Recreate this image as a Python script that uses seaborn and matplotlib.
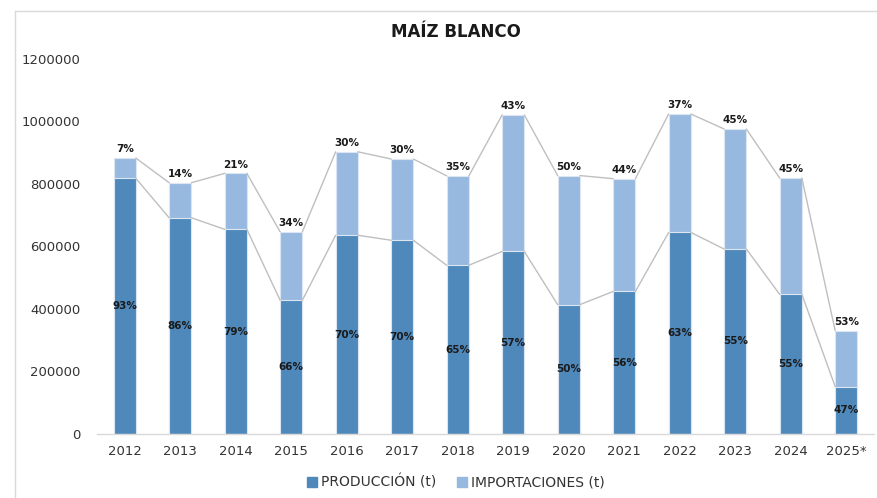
import matplotlib
matplotlib.use("Agg")
import matplotlib.pyplot as plt
import seaborn as sns
import pandas as pd
from matplotlib.patches import Patch

years = ["2012", "2013", "2014", "2015", "2016", "2017", "2018",
         "2019", "2020", "2021", "2022", "2023", "2024", "2025*"]
produccion = [818000, 692000, 655000, 428000, 636000, 620000, 540000,
              584000, 414000, 456000, 645000, 592000, 447000, 152000]
total = [883000, 804000, 834000, 647000, 903000, 880000, 826000,
         1021000, 827000, 817000, 1024000, 976000, 819000, 331000]
pct_prod = ["93%", "86%", "79%", "66%", "70%", "70%", "65%",
            "57%", "50%", "56%", "63%", "55%", "55%", "47%"]
pct_imp = ["7%", "14%", "21%", "34%", "30%", "30%", "35%",
           "43%", "50%", "44%", "37%", "45%", "45%", "53%"]

c_prod = "#4F89BC"
c_imp = "#98B9DF"
line_c = "#BFBFBF"

df = pd.DataFrame({"year": years, "prod": produccion, "total": total})

sns.set_style("white")
plt.rcParams["font.family"] = ["DejaVu Sans"]

fig = plt.figure(figsize=(8.78, 4.98), dpi=100)
ax = fig.add_axes([97 / 878, 1 - 434 / 498, 777 / 878, 375 / 498])

bw = 0.4
# imports stacked on top: draw total first, production over it
sns.barplot(data=df, x="year", y="total", color=c_imp, width=bw,
            edgecolor="#DCE6F2", linewidth=0.8, ax=ax, saturation=1)
sns.barplot(data=df, x="year", y="prod", color=c_prod, width=bw,
            edgecolor="#DCE6F2", linewidth=0.8, ax=ax, saturation=1)

# series lines between bars
for i in range(len(years) - 1):
    ax.plot([i + bw / 2, i + 1 - bw / 2], [total[i], total[i + 1]],
            color=line_c, lw=1, zorder=1)
    ax.plot([i + bw / 2, i + 1 - bw / 2], [produccion[i], produccion[i + 1]],
            color=line_c, lw=1, zorder=1)

for i in range(len(years)):
    ax.text(i, total[i] + 12000, pct_imp[i], ha="center", va="bottom",
            fontsize=7.5, fontweight="bold", color="#1a1a1a")
    ax.text(i, produccion[i] / 2, pct_prod[i], ha="center", va="center",
            fontsize=7.5, fontweight="bold", color="#1a1a1a")

ax.set_xlim(-0.5, len(years) - 0.5)
ax.set_ylim(0, 1200000)
ax.set_yticks(range(0, 1200001, 200000))
ax.set_yticklabels([str(v) for v in range(0, 1200001, 200000)])
ax.set_xlabel("")
ax.set_ylabel("")
ax.tick_params(axis="y", length=0, pad=12, labelsize=9.5, labelcolor="#333333")
ax.tick_params(axis="x", length=0, pad=8, labelsize=9.5, labelcolor="#333333")
for s in ["top", "right", "left"]:
    ax.spines[s].set_visible(False)
ax.spines["bottom"].set_color("#D9D9D9")
ax.spines["bottom"].set_linewidth(1)

fig.text(456 / 878, 1 - 32 / 498, "MAÍZ BLANCO", ha="center", va="center",
         fontsize=12, fontweight="bold", color="#1a1a1a")

handles = [Patch(color=c_prod, label="PRODUCCIÓN (t)"),
           Patch(color=c_imp, label="IMPORTACIONES (t)")]
fig.legend(handles=handles, loc="center", bbox_to_anchor=(456 / 878, 1 - 482 / 498),
           ncol=2, frameon=False, fontsize=10, handlelength=0.7, handleheight=0.7,
           handletextpad=0.3, columnspacing=1.5, labelcolor="#333333")

# chart area border (top and left)
fig.add_artist(plt.Line2D([15 / 878, 1], [1 - 11 / 498, 1 - 11 / 498],
                          color="#D9D9D9", lw=1, transform=fig.transFigure))
fig.add_artist(plt.Line2D([15 / 878, 15 / 878], [0, 1 - 11 / 498],
                          color="#D9D9D9", lw=1, transform=fig.transFigure))

fig.savefig("out.png", dpi=100)
